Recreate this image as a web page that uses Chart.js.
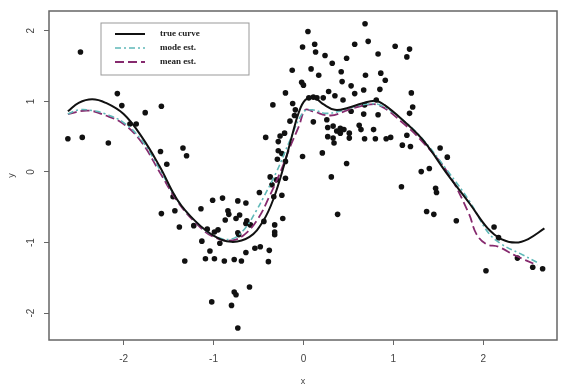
<!DOCTYPE html>
<html>
<head>
<meta charset="utf-8">
<script src="https://cdn.jsdelivr.net/npm/chart.js@4.4.1/dist/chart.umd.min.js"></script>
<style>
  html, body { margin: 0; padding: 0; background: #fff; }
  #wrap { width: 561px; height: 387px; }
</style>
</head>
<body>
<div id="wrap"><canvas id="fitChart"></canvas></div>
<script>
// observed data (x, y)
const pointX = [
    -2.48, -2.07, -2.02, -1.76, -1.58, -2.62, -2.46, -2.17, -1.93, -1.86,
    -1.59, -1.52, -1.34, -1.30, -1.58, -1.45, -1.43, -1.38, -1.32, -1.22,
    -1.14, -1.01, -1.13, -1.04, -1.09, -0.99, -1.07, -0.99, -1.02, -0.90,
    -0.73, -0.64, -0.84, -0.83, -0.71, -0.87, -0.75, -0.95, -0.64, -0.59,
    -0.93, -0.72, -0.64, -0.54, -0.48, -0.38, -0.88, -0.77, -0.69, -0.39,
    -0.60, -0.77, -0.75, -0.80, -0.73, -0.32, -0.32, -0.63, -0.73, -0.44,
    -0.49, -0.37, -0.30, -0.20, -0.35, -0.33, -0.24, -0.23, -0.32, 0.31,
    0.38, 0.685, 0.05, -0.01, 0.125, 0.135, 0.57, 0.72, 0.24, 0.48,
    0.83, 0.32, -0.125, 0.085, 0.17, 0.42, 0.69, 0.86, 0.43, -0.02,
    0.00, 0.53, 0.91, -0.20, 0.28, 0.67, 0.85, 0.57, -0.34, -0.12,
    0.06, 0.11, 0.15, 0.22, 0.35, 0.44, 0.68, 0.81, -0.09, 0.11,
    0.26, 0.53, 0.67, 0.83, 0.27, 0.33, 0.41, 0.41, 0.27, 0.33,
    0.34, 0.51, 0.51, 0.62, 0.64, 0.78, 0.68, 0.80, 0.92, -0.42,
    -0.26, -0.21, -0.28, -0.28, -0.24, -0.29, -0.20, -0.01, 0.21, 0.48,
    1.02, 1.18, 1.15, 1.20, 1.215, 1.18, 1.09, 1.47, 1.48, 1.15,
    1.10, 1.19, 1.52, 1.60, 1.31, 1.40, 0.97, 1.37, 1.45, 1.70,
    2.12, 2.17, 2.38, 2.55, 2.66, 2.03, -0.15, -0.10, 0.37, 0.45
];
const pointY = [
    1.70, 1.11, 0.94, 0.84, 0.93, 0.47, 0.49, 0.41, 0.68, 0.68,
    0.29, 0.11, 0.34, 0.23, -0.59, -0.35, -0.55, -0.78, -1.26, -0.76,
    -0.52, -0.40, -0.98, -1.12, -1.23, -1.23, -0.81, -0.85, -1.84, -0.37,
    -0.41, -0.44, -0.55, -0.60, -0.61, -0.68, -0.66, -0.82, -0.73, -0.75,
    -1.01, -0.89, -1.14, -1.08, -1.06, -1.11, -1.26, -1.24, -1.26, -1.27,
    -1.63, -1.70, -1.74, -1.89, -2.21, -0.75, -0.85, -0.69, -0.86, -0.70,
    -0.29, -0.07, -0.11, -0.09, -0.18, -0.35, -0.33, -0.66, -0.89, -0.07,
    -0.60, 2.10, 1.99, 1.77, 1.81, 1.70, 1.81, 1.85, 1.65, 1.61,
    1.67, 1.54, 1.44, 1.46, 1.37, 1.42, 1.37, 1.40, 1.28, 1.27,
    1.23, 1.22, 1.30, 1.12, 1.14, 1.16, 1.17, 1.11, 0.95, 0.97,
    1.05, 1.06, 1.05, 1.05, 1.08, 1.02, 0.95, 1.02, 0.88, 0.71,
    0.74, 0.86, 0.82, 0.81, 0.63, 0.65, 0.62, 0.55, 0.50, 0.48,
    0.41, 0.55, 0.48, 0.66, 0.60, 0.60, 0.47, 0.47, 0.47, 0.49,
    0.51, 0.55, 0.43, 0.30, 0.26, 0.18, 0.15, 0.22, 0.27, 0.12,
    1.78, 1.74, 1.63, 1.12, 0.92, 0.83, -0.21, -0.23, -0.29, 0.52,
    0.38, 0.36, 0.34, 0.21, 0.005, 0.05, 0.49, -0.56, -0.60, -0.69,
    -0.78, -0.93, -1.22, -1.35, -1.37, -1.40, 0.72, 0.80, 0.58, 0.60
];

// fitted curves
const trueX = [-2.62, -2.5, -2.35, -2.2, -2.0, -1.8, -1.6, -1.4, -1.2, -1.0, -0.8, -0.6, -0.45, -0.33, -0.21, -0.13, -0.05, 0.02, 0.11, 0.22, 0.35, 0.5, 0.65, 0.8, 0.9, 1.1, 1.33, 1.6, 1.85, 2.05, 2.2, 2.36, 2.5, 2.68];
const trueY = [0.86, 0.98, 1.03, 0.98, 0.82, 0.50, 0.08, -0.40, -0.70, -0.90, -0.99, -0.92, -0.70, -0.37, 0.12, 0.50, 0.85, 1.02, 1.06, 0.96, 0.88, 0.91, 0.97, 1.01, 0.95, 0.74, 0.45, -0.03, -0.45, -0.80, -0.95, -1.00, -0.95, -0.80];

const modeX = [-2.62, -2.5, -2.35, -2.2, -2.0, -1.8, -1.6, -1.4, -1.2, -1.0, -0.8, -0.65, -0.53, -0.44, -0.3, -0.15, 0.0, 0.1, 0.25, 0.4, 0.55, 0.7, 0.85, 1.1, 1.33, 1.6, 1.85, 2.05, 2.2, 2.4, 2.6];
const modeY = [0.82, 0.88, 0.87, 0.82, 0.70, 0.45, 0.04, -0.40, -0.70, -0.90, -0.95, -0.80, -0.56, -0.35, 0.00, 0.45, 0.85, 0.88, 0.83, 0.86, 0.92, 0.96, 0.95, 0.74, 0.46, 0.02, -0.42, -0.85, -1.02, -1.15, -1.28];

const meanX = [-2.62, -2.4, -2.2, -2.0, -1.8, -1.6, -1.4, -1.2, -1.0, -0.8, -0.65, -0.5, -0.38, -0.25, -0.15, -0.05, 0.02, 0.1, 0.3, 0.5, 0.7, 0.85, 1.1, 1.33, 1.6, 1.84, 1.92, 2.03, 2.17, 2.35, 2.6];
const meanY = [0.82, 0.87, 0.80, 0.68, 0.42, 0.00, -0.42, -0.72, -0.92, -0.97, -0.88, -0.65, -0.35, 0.02, 0.35, 0.65, 0.88, 0.86, 0.80, 0.88, 0.95, 0.94, 0.70, 0.42, 0.00, -0.59, -0.87, -1.02, -1.06, -1.18, -1.32];

const xTicks = [-2, -1, 0, 1, 2];
const yTicks = [-2, -1, 0, 1, 2];
const seriesNames = ["true curve", "mode est.", "mean est."];

const colours = {
    truth: "#111111",
    mode: "#5fb8b8",
    mean: "#862a6e",
    frame: "#666666",
    tickText: "#444444",
    legendBorder: "#999999"
};

function toPoints(xs, ys) {
    return xs.map((x, i) => ({ x, y: ys[i] }));
}

function lineDataset(label, xs, ys, colour, dash, width) {
    return {
        label,
        data: toPoints(xs, ys),
        showLine: true,
        borderColor: colour,
        backgroundColor: colour,
        borderWidth: width,
        borderDash: dash,
        pointRadius: 0,
        tension: 0.4,
        fill: false
    };
}

const framePlugin = {
    id: "rFrame",
    afterDraw(chart) {
        const ctx = chart.ctx;
        const area = chart.chartArea;
        const yScale = chart.scales.y;

        ctx.save();
        ctx.strokeStyle = colours.frame;
        ctx.lineWidth = 1.5;
        ctx.strokeRect(area.left, area.top, area.right - area.left, area.bottom - area.top);

        // rotated y tick labels, R style
        ctx.fillStyle = colours.tickText;
        ctx.font = "10px 'Liberation Sans', sans-serif";
        ctx.textAlign = "center";
        ctx.textBaseline = "middle";
        yTicks.forEach((value) => {
            const py = yScale.getPixelForValue(value);
            ctx.save();
            ctx.translate(area.left - 18, py);
            ctx.rotate(-Math.PI / 2);
            ctx.fillText(String(value), 0, 0);
            ctx.restore();
        });

        // legend box
        const box = { left: 101, top: 23, width: 148, height: 52 };
        ctx.fillStyle = "#ffffff";
        ctx.fillRect(box.left, box.top, box.width, box.height);
        ctx.strokeStyle = colours.legendBorder;
        ctx.lineWidth = 1;
        ctx.strokeRect(box.left, box.top, box.width, box.height);

        ctx.font = "bold 9px 'Liberation Serif', serif";
        ctx.textAlign = "left";
        chart.data.datasets.slice(0, 3).forEach((dataset, i) => {
            const rowY = box.top + 11 + i * 14;
            ctx.strokeStyle = dataset.borderColor;
            ctx.lineWidth = dataset.borderWidth;
            ctx.setLineDash(dataset.borderDash || []);
            ctx.beginPath();
            ctx.moveTo(box.left + 14, rowY);
            ctx.lineTo(box.left + 44, rowY);
            ctx.stroke();
            ctx.setLineDash([]);
            ctx.fillStyle = "#222222";
            ctx.fillText(dataset.label, box.left + 59, rowY);
        });
        ctx.restore();
    }
};

new Chart(document.getElementById("fitChart"), {
    type: "scatter",
    data: {
        datasets: [
            lineDataset(seriesNames[0], trueX, trueY, colours.truth, [], 2),
            lineDataset(seriesNames[1], modeX, modeY, colours.mode, [6, 3, 2, 3], 1.6),
            lineDataset(seriesNames[2], meanX, meanY, colours.mean, [9, 4], 1.8),
            {
                label: "data",
                data: toPoints(pointX, pointY),
                backgroundColor: "#111111",
                borderColor: "#111111",
                pointRadius: 2.8,
                borderWidth: 0
            }
        ]
    },
    options: {
        responsive: true,
        maintainAspectRatio: false,
        animation: false,
        layout: { padding: { left: 0, right: 1, top: 11, bottom: 0 } },
        plugins: {
            legend: { display: false },
            tooltip: { enabled: false }
        },
        scales: {
            x: {
                type: "linear",
                min: -2.83,
                max: 2.82,
                afterBuildTicks: (scale) => { scale.ticks = xTicks.map((value) => ({ value })); },
                afterFit: (scale) => { scale.height = 47; },
                border: { display: false },
                grid: {
                    drawOnChartArea: false,
                    drawTicks: true,
                    tickLength: 5,
                    color: colours.frame,
                    lineWidth: 1
                },
                ticks: {
                    color: colours.tickText,
                    padding: 8,
                    maxRotation: 0,
                    font: { family: "'Liberation Sans', sans-serif", size: 10 }
                },
                title: {
                    display: true,
                    text: "x",
                    color: colours.tickText,
                    padding: { top: 0, bottom: 0 },
                    font: { family: "'Liberation Sans', sans-serif", size: 9 }
                }
            },
            y: {
                type: "linear",
                min: -2.38,
                max: 2.28,
                afterBuildTicks: (scale) => { scale.ticks = yTicks.map((value) => ({ value })); },
                afterFit: (scale) => { scale.width = 49; },
                border: { display: false },
                grid: {
                    drawOnChartArea: false,
                    drawTicks: true,
                    tickLength: 5,
                    color: colours.frame,
                    lineWidth: 1
                },
                ticks: { display: false },
                title: {
                    display: true,
                    text: "y",
                    color: colours.tickText,
                    padding: { top: 6, bottom: 0 },
                    font: { family: "'Liberation Sans', sans-serif", size: 9 }
                }
            }
        }
    },
    plugins: [framePlugin]
});
</script>
</body>
</html>
